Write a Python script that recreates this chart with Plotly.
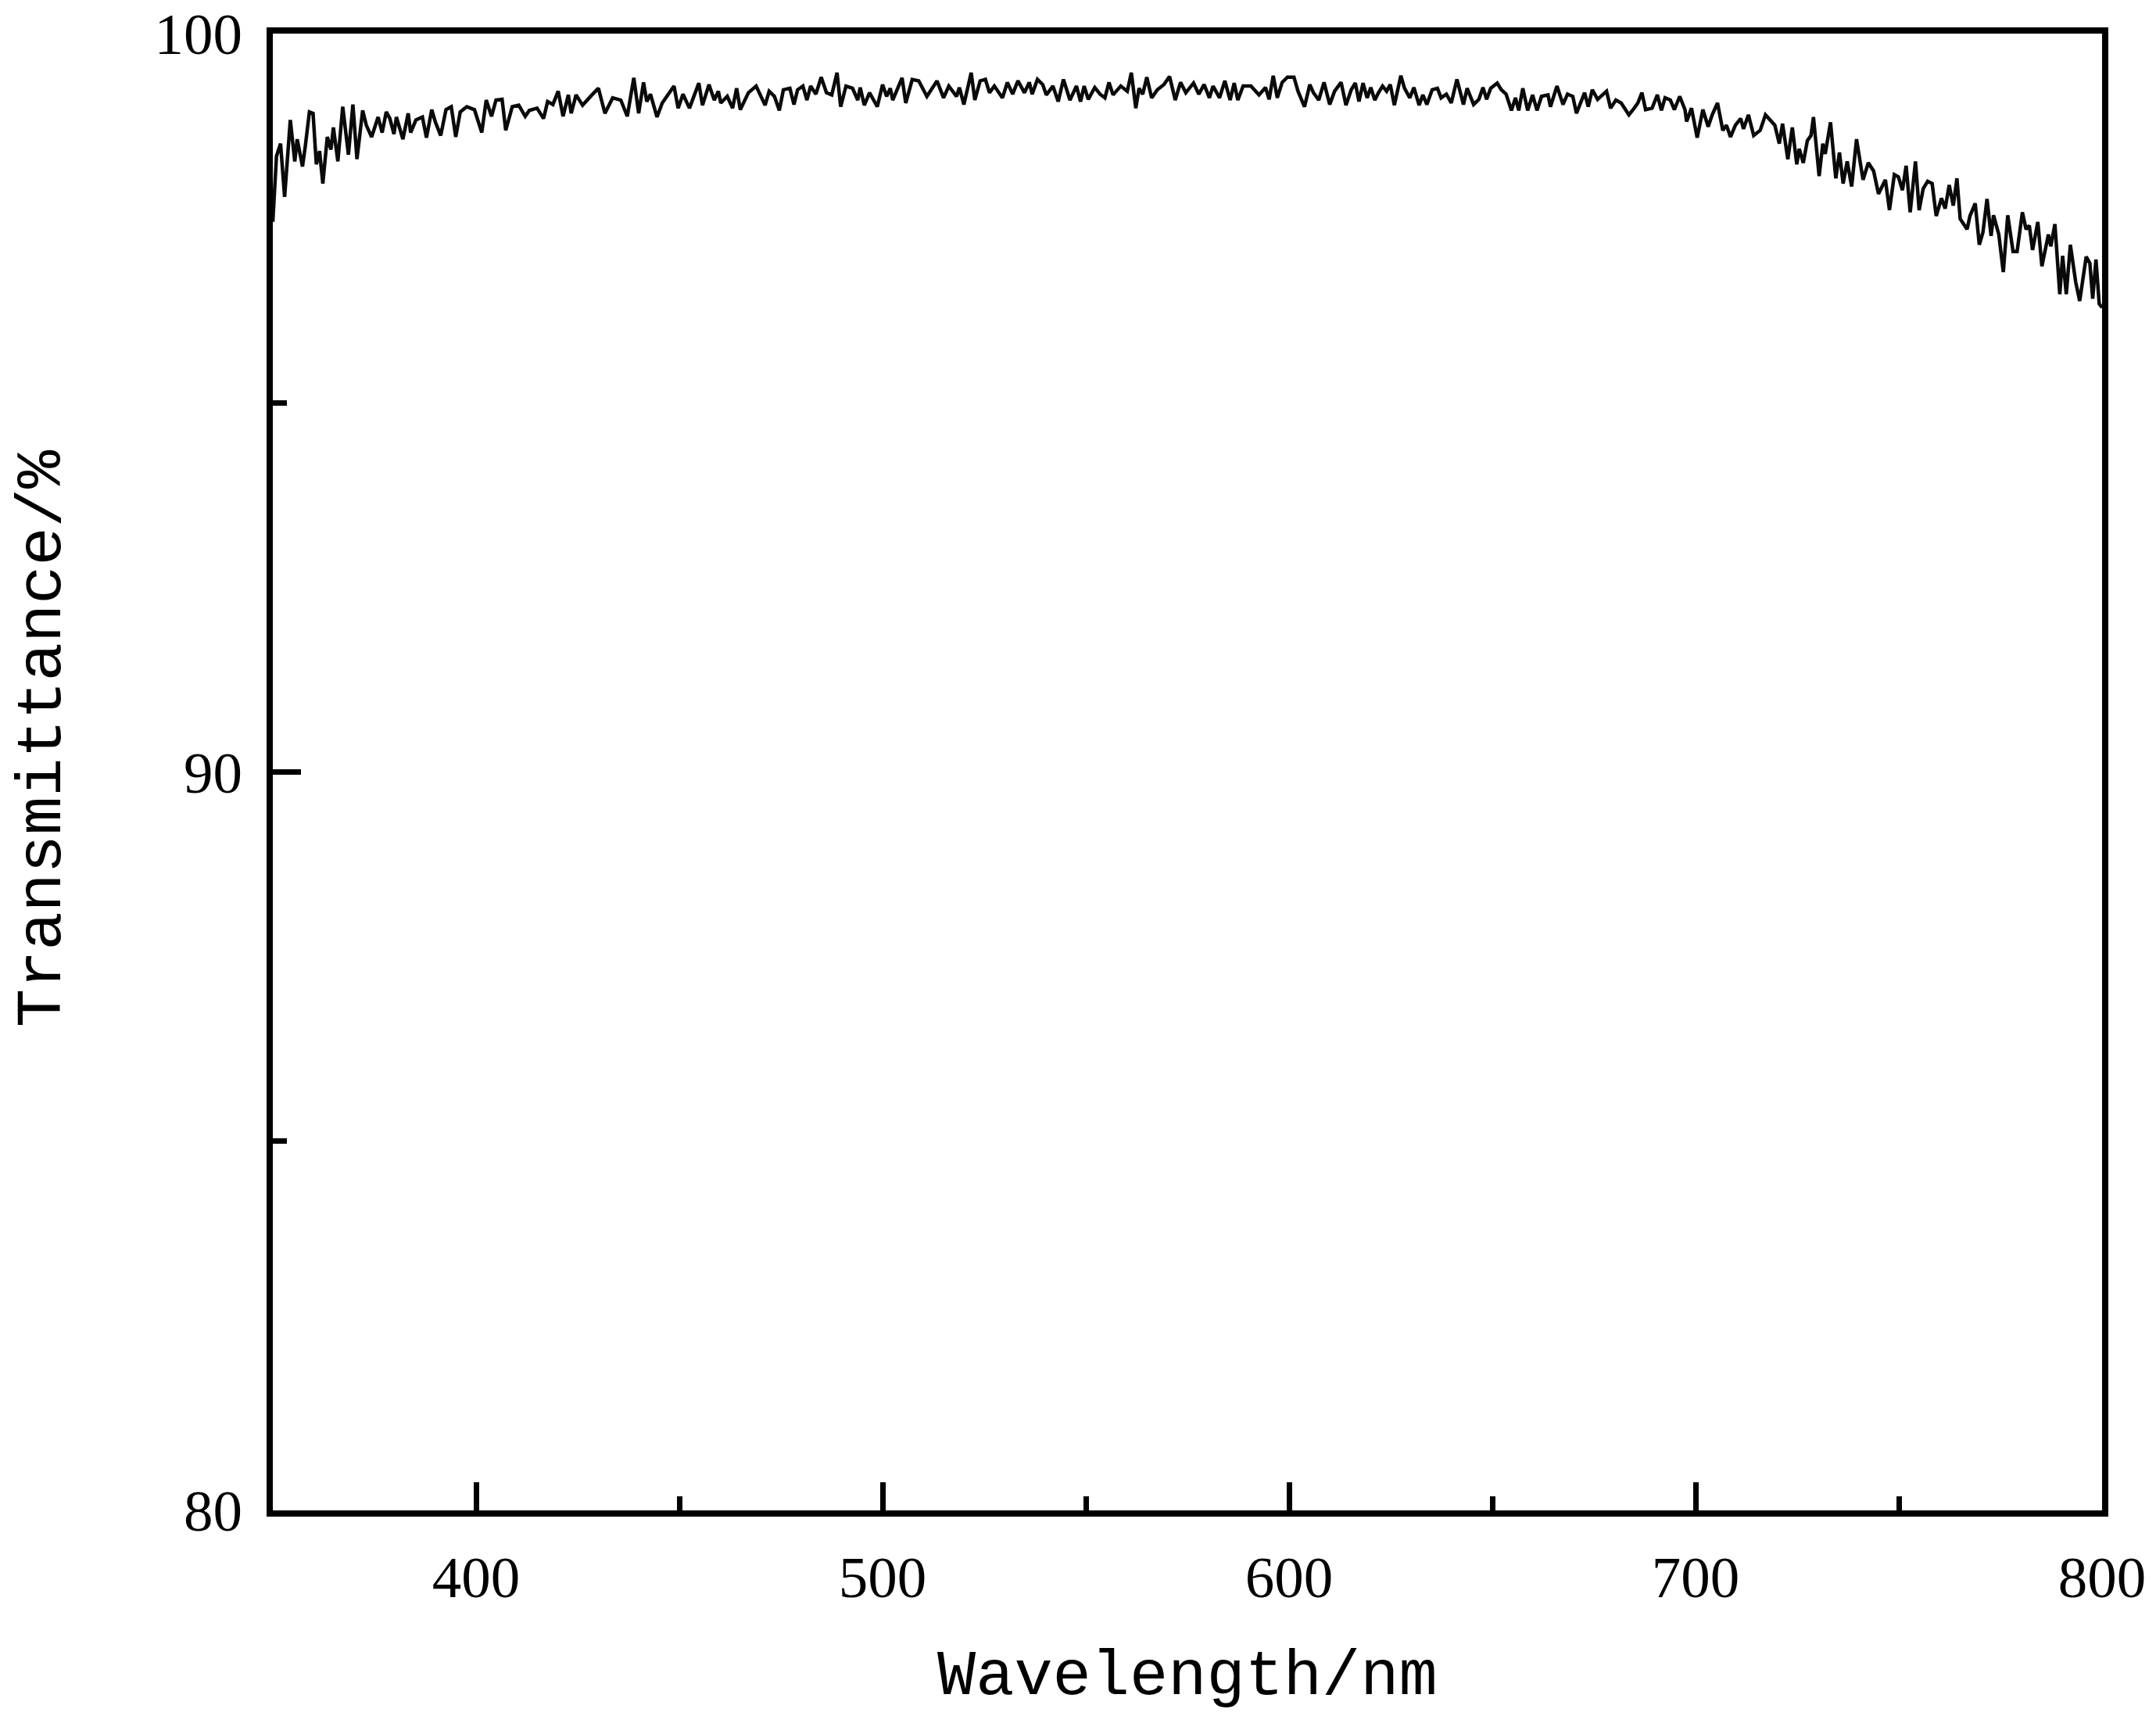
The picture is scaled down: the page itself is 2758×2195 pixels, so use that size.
import plotly.graph_objects as go

# Wavelength (nm) and transmittance (%)
wavelength = [
    350.0, 350.9, 351.9, 352.9, 354.3, 355.4, 356.0, 357.3, 358.0, 359.0, 359.9, 360.7, 361.5, 362.3,
    363.4, 364.3, 364.9, 366.0, 367.2, 368.6, 369.7, 370.7, 372.1, 373.0, 374.3, 375.9, 376.9, 377.9,
    378.8, 379.8, 380.4, 382.0, 383.3, 383.9, 385.2, 386.8, 387.8, 389.1, 390.0, 391.3, 392.6, 393.9,
    395.0, 396.1, 397.7, 399.6, 401.4, 402.5, 403.8, 404.9, 406.4, 407.3, 408.9, 410.5, 412.1, 413.1,
    415.0, 416.6, 417.6, 418.9, 420.2, 421.4, 422.7, 423.4, 424.6, 426.2, 428.5, 430.1, 431.7, 433.6,
    435.6, 437.2, 438.8,
    440.0, 441.2, 442.0, 442.9, 444.5, 445.8, 447.1, 448.7, 449.7, 450.9, 452.5, 454.8, 455.7, 457.3,
    458.6, 459.6, 460.2, 461.8, 463.1, 464.1, 465.0, 467.0, 468.9, 471.1, 472.1, 473.4, 474.6, 475.6,
    477.2, 478.2, 479.1, 480.4, 481.4, 482.3, 483.6, 484.9, 486.2, 487.5, 488.8, 489.7, 491.0, 492.6,
    493.9, 494.5, 495.5, 496.8, 498.7, 500.0, 501.0, 501.9, 502.5, 504.8, 505.7, 507.3, 508.9, 510.9,
    513.4, 515.0, 516.3, 518.2, 518.9, 520.0, 521.8, 522.7, 524.0, 525.3, 526.3, 527.5, 529.5,
    530.7, 532.0, 533.3, 534.9, 536.1, 536.8, 538.1, 539.4, 540.3, 541.9, 543.2, 544.5, 546.1, 547.7,
    548.7, 549.6, 550.6, 552.2, 553.5, 554.7, 555.7, 556.7, 558.6, 560.2, 561.2, 562.3, 563.1, 564.0,
    565.0, 566.2, 567.6, 569.2, 570.6, 572.0, 573.3, 574.6, 576.5, 577.8, 579.1, 580.4, 581.3, 582.9,
    584.2, 585.5, 586.5, 587.4, 588.7, 590.6, 592.6, 594.2, 595.1, 596.1, 597.1, 598.3, 599.6, 601.2,
    602.2, 603.8, 605.1, 606.0, 607.3, 608.6, 610.0, 611.2, 612.8, 614.0, 615.3, 616.3, 617.2, 618.2,
    619.2, 620.1,
    621.1, 622.0, 623.0, 624.0, 624.9, 625.9, 627.5, 628.4, 629.7, 630.7, 632.0, 632.9, 633.9, 635.2,
    636.5, 637.4, 638.7, 639.9, 641.3, 642.9, 643.8, 645.4, 646.7, 647.7, 648.6, 649.6, 651.2, 652.2,
    653.4, 654.7, 655.7, 656.5, 657.5, 658.7, 659.9, 661.0, 662.1, 663.7, 664.3, 665.9, 667.4, 668.5,
    669.8, 670.7, 672.7, 673.6, 674.6, 675.9, 677.2, 678.1, 679.1, 680.4, 681.7, 683.6, 684.9, 685.8,
    686.8, 687.7, 689.3, 690.6, 691.6, 692.5, 693.8, 694.8, 696.1, 697.4, 697.8, 699.0, 700.4, 701.8,
    703.1, 704.1, 705.4, 706.7, 707.6, 708.6,
    709.8, 711.1, 711.8, 713.0, 714.3, 715.9, 717.2, 718.8, 719.5, 720.6, 721.4, 722.7, 723.8, 724.9,
    725.5, 726.5, 727.5, 728.4, 729.0, 730.4, 731.3, 731.9, 733.2, 734.5, 735.4, 736.3, 737.3, 738.4,
    739.6, 741.2, 742.5, 743.8, 745.0, 746.7, 747.7, 748.9, 749.9, 750.9, 751.8, 752.8, 754.1, 755.0,
    756.0, 757.1, 758.2, 759.2, 760.5, 761.4, 762.4, 763.4, 764.3, 765.1, 766.8, 767.5, 768.8, 769.8,
    770.7, 771.7, 772.7, 773.3, 774.6, 775.7, 776.8, 778.1, 779.1, 780.4, 781.3, 782.1, 782.9, 784.2,
    785.2, 786.8, 787.4, 788.4, 789.6, 790.3, 791.2, 792.2, 793.5, 794.5, 796.1, 797.0, 797.7, 798.5,
    799.3, 800.0,
]

transmittance = [
    97.45, 98.34, 98.51, 97.79, 98.83, 98.27, 98.57, 98.20, 98.48, 98.94, 98.92, 98.23, 98.41, 97.97,
    98.60, 98.43, 98.73, 98.27, 99.01, 98.36, 99.04, 98.30, 98.96, 98.76, 98.60, 98.87, 98.66, 98.94,
    98.85, 98.64, 98.87, 98.57, 98.92, 98.66, 98.83, 98.87, 98.59, 98.97, 98.80, 98.62, 98.97, 99.01,
    98.60, 98.94, 99.01, 98.97, 98.66, 99.10, 98.88, 99.10, 99.11, 98.69, 99.01, 99.03, 98.88, 98.96,
    98.99, 98.85, 99.08, 99.04, 99.22, 98.88, 99.17, 98.92, 99.17, 99.03, 99.17, 99.26, 98.92, 99.13,
    99.10, 98.88, 99.40,
    98.92, 99.34, 99.08, 99.18, 98.87, 99.06, 99.17, 99.29, 98.99, 99.18, 98.99, 99.33, 99.03, 99.31,
    99.10, 99.22, 99.06, 99.15, 98.99, 99.26, 98.97, 99.20, 99.29, 99.03, 99.22, 99.15, 98.96, 99.24,
    99.26, 99.04, 99.24, 99.29, 99.10, 99.29, 99.18, 99.41, 99.20, 99.17, 99.47, 99.01, 99.29, 99.26,
    99.10, 99.27, 99.03, 99.20, 99.01, 99.31, 99.15, 99.26, 99.10, 99.40, 99.06, 99.38, 99.36, 99.15,
    99.36, 99.13, 99.29, 99.15, 99.27, 99.04, 99.47, 99.10, 99.36, 99.38, 99.20, 99.29, 99.13,
    99.34, 99.18, 99.36, 99.20, 99.34, 99.18, 99.38, 99.31, 99.17, 99.29, 99.08, 99.38, 99.10, 99.29,
    99.08, 99.29, 99.11, 99.27, 99.18, 99.13, 99.34, 99.17, 99.29, 99.22, 99.47, 98.99, 99.26, 99.18,
    99.41, 99.13, 99.24, 99.31, 99.42, 99.10, 99.34, 99.20, 99.33, 99.18, 99.31, 99.13, 99.29, 99.13,
    99.36, 99.10, 99.33, 99.10, 99.29, 99.29, 99.17, 99.27, 99.11, 99.43, 99.13, 99.34, 99.41, 99.41,
    99.22, 99.01, 99.31, 99.20, 99.10, 99.34, 99.04, 99.22, 99.34, 99.03, 99.24, 99.33, 99.08, 99.33,
    99.13, 99.27,
    99.10, 99.20, 99.29, 99.22, 99.31, 99.03, 99.43, 99.26, 99.13, 99.27, 99.03, 99.17, 99.04, 99.24,
    99.26, 99.13, 99.18, 99.06, 99.38, 99.04, 99.26, 99.04, 99.11, 99.27, 99.11, 99.26, 99.33, 99.24,
    99.18, 98.96, 99.13, 98.96, 99.26, 98.96, 99.17, 98.96, 99.15, 99.17, 99.01, 99.29, 99.04, 99.18,
    99.15, 98.92, 99.20, 99.01, 99.24, 99.11, 99.18, 99.22, 98.99, 99.10, 99.06, 98.90, 98.99, 99.06,
    99.20, 98.97, 98.99, 99.17, 98.96, 99.13, 99.10, 98.97, 99.15, 98.97, 98.81, 98.99, 98.59, 98.97,
    98.74, 98.90, 99.06, 98.69, 98.76, 98.60,
    98.76, 98.85, 98.71, 98.90, 98.62, 98.69, 98.90, 98.81, 98.76, 98.51, 98.78, 98.30, 98.73, 98.23,
    98.44, 98.25, 98.55, 98.62, 98.87, 98.07, 98.51, 98.37, 98.80, 98.04, 98.39, 97.97, 98.27, 97.93,
    98.57, 98.02, 98.25, 98.14, 97.83, 98.02, 97.61, 98.09, 98.06, 97.88, 98.21, 97.58, 98.27, 97.61,
    97.90, 98.00, 97.97, 97.53, 97.77, 97.63, 97.95, 97.67, 98.04, 97.49, 97.35, 97.53, 97.70, 97.14,
    97.31, 97.76, 97.26, 97.54, 97.28, 96.77, 97.54, 97.05, 97.05, 97.58, 97.35, 97.40, 97.07, 97.45,
    96.85, 97.28, 97.12, 97.42, 96.47, 96.99, 96.47, 97.14, 96.64, 96.38, 96.98, 96.89, 96.41, 96.94,
    96.34, 96.29,
]

x_tick_vals = [400, 500, 600, 700, 800]
x_tick_text = ["400", "500", "600", "700", "800"]
y_tick_vals = [80, 90, 100]
y_tick_text = ["80", "90", "100"]
x_title = "Wavelength/nm"
y_title = "Transmittance/%"

# figure fills the page (body margin removed by post_script)
W, H = 2758, 2195
PW, PH = 2340, 1889
ML, MT = 349, 43
MR, MB = W - ML - PW, H - MT - PH
BOTTOM = MT + PH  # pixel y of x-axis

fig = go.Figure()
fig.add_trace(go.Scatter(
    x=wavelength, y=transmittance, mode="lines",
    line=dict(color="#0a0a0a", width=4.5), showlegend=False, hoverinfo="skip",
))

tick_font = dict(family="Liberation Serif", size=75, color="black")
title_font = dict(family="Liberation Mono", size=82, color="black")

common = dict(
    showline=True, linecolor="black", linewidth=8, mirror=True,
    showgrid=False, zeroline=False, automargin=False,
    ticks="inside", ticklen=36, tickwidth=7, tickcolor="black",
    tickfont=tick_font, ticklabeloverflow="allow",
)

fig.update_xaxes(
    range=[350, 800], tickvals=x_tick_vals, ticktext=x_tick_text,
    minor=dict(ticks="inside", ticklen=18, tickwidth=7, tickcolor="black",
               tickvals=[450, 550, 650, 750]),
    ticklabelstandoff=13,
    **common,
)
fig.update_yaxes(
    range=[80, 100], tickvals=y_tick_vals, ticktext=y_tick_text,
    minor=dict(ticks="inside", ticklen=18, tickwidth=7, tickcolor="black",
               tickvals=[85, 95]),
    ticklabelstandoff=16,
    **common,
)

# title positions in page pixels (reference)
xt_y = 2145
yt_x, yt_y = 55, 945
fig.add_annotation(
    text=x_title, xref="paper", yref="paper",
    x=0.5, y=-(xt_y - BOTTOM) / PH, xanchor="center", yanchor="middle",
    showarrow=False, font=title_font,
)
fig.add_annotation(
    text=y_title, xref="paper", yref="paper",
    x=(yt_x - ML) / PW, y=(BOTTOM - yt_y) / PH,
    xanchor="center", yanchor="middle",
    textangle=-90, showarrow=False, font=title_font,
)

fig.update_layout(
    width=W, height=H,
    margin=dict(l=ML, r=MR, t=MT, b=MB, pad=0, autoexpand=False),
    paper_bgcolor="white", plot_bgcolor="white",
)

fig.write_html(
    "out.html",
    config={"displayModeBar": False},
    post_script="document.body.style.margin='0';document.body.style.overflow='hidden';",
)
